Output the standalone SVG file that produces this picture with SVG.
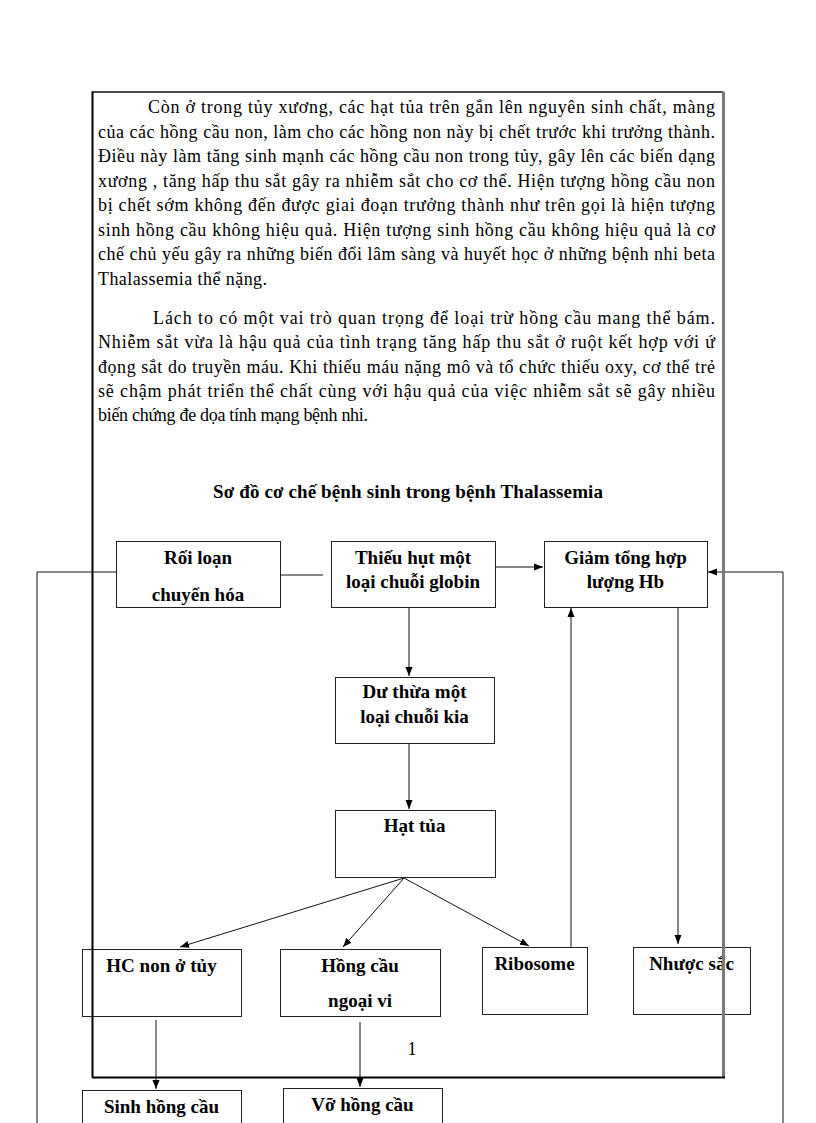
<svg xmlns="http://www.w3.org/2000/svg" width="816" height="1123" viewBox="0 0 816 1123">
<style>
.body{font-family:"Liberation Serif","Times New Roman",serif;font-size:18px;fill:#000}
.lbl{font-family:"Liberation Serif","Times New Roman",serif;font-size:19px;font-weight:bold;fill:#000;text-anchor:middle}
.box{fill:none;stroke:#222;stroke-width:1}
.con{fill:none;stroke:#111;stroke-width:1}
</style>
<defs>
<marker id="ah" markerUnits="userSpaceOnUse" markerWidth="10" markerHeight="8" refX="9" refY="4" orient="auto">
<path d="M0,0.5 L9,4 L0,7.5 z" fill="#000"/>
</marker>
</defs>
<rect width="816" height="1123" fill="#fff"/>
<g id="text-body">
<text class="body" x="148" y="113" textLength="567" lengthAdjust="spacing">Còn ở trong tủy xương, các hạt tủa trên gắn lên nguyên sinh chất, màng</text>
<text class="body" x="98" y="137.5" textLength="617" lengthAdjust="spacing">của các hồng cầu non, làm cho các hồng non này bị chết trước khi trưởng thành.</text>
<text class="body" x="98" y="162" textLength="617" lengthAdjust="spacing">Điều này làm tăng sinh mạnh các hồng cầu non trong tủy, gây lên các biến dạng</text>
<text class="body" x="98" y="186.5" textLength="617" lengthAdjust="spacing">xương , tăng hấp thu sắt gây ra nhiễm sắt cho cơ thể. Hiện tượng hồng cầu non</text>
<text class="body" x="98" y="211" textLength="617" lengthAdjust="spacing">bị chết sớm không đến được giai  đoạn trưởng thành như trên gọi là hiện tượng</text>
<text class="body" x="98" y="235.5" textLength="617" lengthAdjust="spacing">sinh hồng cầu không hiệu quả. Hiện tượng sinh hồng cầu không hiệu quả là cơ</text>
<text class="body" x="98" y="260" textLength="617" lengthAdjust="spacing">chế chủ yếu gây ra những biến đổi lâm sàng và huyết học ở những bệnh nhi beta</text>
<text class="body" x="98" y="284.5" textLength="169" lengthAdjust="spacing">Thalassemia thể nặng.</text>
<text class="body" x="153" y="324" textLength="562" lengthAdjust="spacing">Lách to có một vai trò quan trọng để loại trừ hồng cầu mang thể bám.</text>
<text class="body" x="98" y="348" textLength="617" lengthAdjust="spacing">Nhiễm sắt vừa là hậu quả của tình trạng tăng hấp thu sắt ở ruột kết hợp với ứ</text>
<text class="body" x="98" y="372.5" textLength="617" lengthAdjust="spacing">đọng sắt do truyền máu. Khi thiếu máu nặng mô và tổ chức thiếu oxy, cơ thể trẻ</text>
<text class="body" x="98" y="397" textLength="617" lengthAdjust="spacing">sẽ chậm phát triển thể chất cùng với hậu quả của việc nhiễm sắt sẽ gây nhiều</text>
<text class="body" x="98" y="421" textLength="270" lengthAdjust="spacing">biến chứng đe dọa tính mạng bệnh nhi.</text>
<text class="lbl" x="408" y="498" textLength="390" lengthAdjust="spacing">Sơ đồ cơ chế bệnh sinh trong bệnh Thalassemia</text>
<text class="body" x="412" y="1055" text-anchor="middle">1</text>
</g>
<g id="connectors">
<path class="con" d="M280,575 H323"/>
<path class="con" d="M116,572 H37 V1123"/>
<path class="con" d="M495,567 H543" marker-end="url(#ah)"/>
<path class="con" d="M783,1123 V572 H708" marker-end="url(#ah)"/>
<path class="con" d="M409,607 V676" marker-end="url(#ah)"/>
<path class="con" d="M409,743 V809" marker-end="url(#ah)"/>
<path class="con" d="M404,878 L180,947" marker-end="url(#ah)"/>
<path class="con" d="M404,878 L343,947" marker-end="url(#ah)"/>
<path class="con" d="M404,878 L529,946" marker-end="url(#ah)"/>
<path class="con" d="M571,947 V608" marker-end="url(#ah)"/>
<path class="con" d="M678,607 V944" marker-end="url(#ah)"/>
<path class="con" d="M156,1020 V1089" marker-end="url(#ah)"/>
<path class="con" d="M360,1022 V1087" marker-end="url(#ah)"/>
</g>
<g id="n-roi-loan"><rect class="box" x="116.5" y="541.5" width="164" height="66"/><text class="lbl" x="198" y="564">Rối loạn</text><text class="lbl" x="198" y="601">chuyển hóa</text></g>
<g id="n-thieu-hut"><rect class="box" x="331.5" y="541.5" width="164" height="66"/><text class="lbl" x="413" y="564">Thiếu hụt một</text><text class="lbl" x="413" y="588">loại chuỗi globin</text></g>
<g id="n-giam"><rect class="box" x="544.5" y="541.5" width="163" height="66"/><text class="lbl" x="625.5" y="564">Giảm tổng hợp</text><text class="lbl" x="625.5" y="588">lượng Hb</text></g>
<g id="n-du-thua"><rect class="box" x="335.5" y="677.5" width="159" height="66"/><text class="lbl" x="414.5" y="698">Dư thừa một</text><text class="lbl" x="414.5" y="723">loại chuỗi kia</text></g>
<g id="n-hat-tua"><rect class="box" x="335.5" y="810.5" width="160" height="67"/><text class="lbl" x="414.5" y="832">Hạt tủa</text></g>
<g id="n-hc-non"><rect class="box" x="82.5" y="949.5" width="159" height="67"/><text class="lbl" x="161.5" y="972">HC non ở tủy</text></g>
<g id="n-hong-cau"><rect class="box" x="280.5" y="949.5" width="160" height="67"/><text class="lbl" x="360" y="972">Hồng cầu</text><text class="lbl" x="360" y="1007">ngoại vi</text></g>
<g id="n-ribosome"><rect class="box" x="482.5" y="947.5" width="105" height="67"/><text class="lbl" x="534.5" y="970">Ribosome</text></g>
<g id="n-nhuoc-sac"><rect class="box" x="633.5" y="947.5" width="117" height="67"/><text class="lbl" x="691.5" y="970">Nhược sắc</text></g>
<g id="n-sinh-hong-cau"><rect class="box" x="82.5" y="1090.5" width="159" height="50"/><text class="lbl" x="161.5" y="1113">Sinh hồng cầu</text></g>
<g id="n-vo-hong-cau"><rect class="box" x="283.5" y="1088.5" width="159" height="50"/><text class="lbl" x="362.5" y="1111">Vỡ hồng cầu</text></g>
<g id="page-frame">
<path d="M92,92 H723" stroke="#111" stroke-width="1.5" fill="none"/>
<path d="M92.5,91.5 V1077.5" stroke="#000" stroke-width="2" fill="none"/>
<path d="M723.5,91.5 V1078" stroke="#7a7a7a" stroke-width="3" fill="none"/>
<path d="M92,1077.5 H725" stroke="#000" stroke-width="2" fill="none"/>
</g>
</svg>
